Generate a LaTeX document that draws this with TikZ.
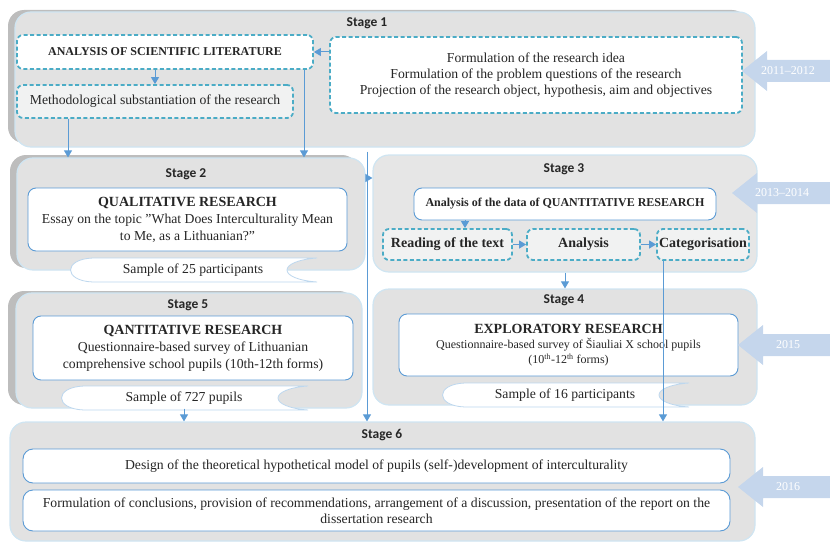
\documentclass[tikz,border=0pt]{standalone}
\usepackage{fontspec}
\setmainfont{Liberation Serif}
\newfontfamily\stagefont{Carlito}
\usetikzlibrary{arrows.meta,calc}
\definecolor{stagefill}{HTML}{E2E2E2}
\definecolor{stageshadow}{HTML}{BDBDBD}
\definecolor{stageedge}{HTML}{CFE5F2}
\definecolor{dashcyan}{HTML}{4BACC6}
\definecolor{solidblue}{HTML}{5B9BD5}
\definecolor{yearblue}{HTML}{C5D6EC}
\definecolor{ribbonedge}{HTML}{BDD7EE}
\definecolor{lightfill}{HTML}{F1F2F2}
\definecolor{txt}{HTML}{262626}
\tikzset{
 stagebox/.style={draw=stageedge, line width=1.2pt, fill=stagefill, rounded corners=16pt, inner sep=0pt},
 stagelabel/.style={font=\stagefont\bfseries\fontsize{13.5}{15}\selectfont, text=txt, inner sep=0pt},
 dashbox/.style={draw=dashcyan, line width=1.8pt, dash pattern=on 4pt off 2.5pt, rounded corners=6pt, inner sep=2pt, align=center, fill=white, text=txt},
 solidbox/.style={draw=solidblue, line width=0.9pt, rounded corners=8pt, fill=white, inner sep=2pt, align=center, text=txt},
 arr/.style={draw=solidblue, line width=1pt, -{Triangle[width=8pt,length=7pt]}},
 yeartext/.style={text=white, font=\fontsize{12}{14}\selectfont, inner sep=0pt},
 ribbon/.style={fill=white, draw=ribbonedge, line width=0.8pt},
 body/.style={font=\fontsize{13.7}{16}\selectfont, text=txt},
 titlefont/.style={font=\bfseries\fontsize{12}{14}\selectfont},
 stepfont/.style={font=\bfseries\fontsize{14}{16}\selectfont},
}
\newcommand\ribbonat[4]{%
 \begin{scope}[shift={(#1,#2)}]
 \path[ribbon] (-100,-12) -- (124,-12) .. controls (84,-9) and (84,9) .. (124,12) -- (-100,12) .. controls (-130,11) and (-130,-11) .. (-100,-12) -- cycle;
 \end{scope}
 \node[body, inner sep=0pt] (#3) at (#1,#2) {#4};}
\newcommand\yeararrow[5]{% tip x, tip y, text x, name, text
 \fill[yearblue] (#1,#2) -- ++(25,-20) -- ++(0,9) -- (830,{#2-11}) -- (830,{#2+11}) -- ({#1+25},{#2+11}) -- ({#1+25},{#2+20}) -- cycle;
 \node[yeartext] (#4) at (#3,#2) {#5};}
\begin{document}
\begin{tikzpicture}[x=1pt,y=-1pt]
\useasboundingbox (0,0) rectangle (830,543);
% shadows
\fill[stageshadow, rounded corners=16pt] (8,10) rectangle (748,143);
\fill[stageshadow, rounded corners=16pt] (10,155) rectangle (358,268);
\fill[stageshadow, rounded corners=16pt] (8,291) rectangle (355,405);
% stage boxes
\node[stagebox, minimum width=740pt, minimum height=135pt] (S1) at (385,79.5) {};
\node[stagebox, minimum width=348pt, minimum height=112pt] (S2) at (191,214) {};
\node[stagebox, fill=stagefill!85!white, minimum width=384pt, minimum height=117pt] (S3) at (565,213.5) {};
\node[stagebox, minimum width=384pt, minimum height=116pt] (S4) at (565,347) {};
\node[stagebox, minimum width=346pt, minimum height=115pt] (S5) at (189,350.5) {};
\node[stagebox, minimum width=745pt, minimum height=119pt] (S6) at (382.5,481.5) {};
% labels
\node[stagelabel] (L1) at (367,23) {Stage 1};
\node[stagelabel] (L2) at (186,174) {Stage 2};
\node[stagelabel] (L3) at (564,169) {Stage 3};
\node[stagelabel] (L4) at (564,300) {Stage 4};
\node[stagelabel] (L5) at (188,305) {Stage 5};
\node[stagelabel] (L6) at (382,435) {Stage 6};
% ribbons
\ribbonat{193}{270}{R2}{Sample of 25 participants}
\ribbonat{565}{395}{R4}{Sample of 16 participants}
\ribbonat{184}{398}{R5}{Sample of 727 pupils}
% stage 1
\node[dashbox, titlefont, minimum width=296pt, minimum height=34pt] (lit) at (165,52) {ANALYSIS OF SCIENTIFIC LITERATURE};
\node[dashbox, body, fill=lightfill, minimum width=276pt, minimum height=33pt] (meth) at (155,101.5) {Methodological substantiation of the research};
\node[dashbox, body, minimum width=412pt, minimum height=76pt] (idea) at (536,75) {Formulation of the research idea\\Formulation of the problem questions of the research\\Projection of the research object, hypothesis, aim and objectives};
% stage 2
\node[solidbox, font=\fontsize{13.7}{17}\selectfont, minimum width=319pt, minimum height=63pt] (qual) at (187.5,219.5) {\textbf{\fontsize{14}{17}\selectfont QUALITATIVE RESEARCH}\\Essay on the topic ”What Does Interculturality Mean\\to Me, as a Lithuanian?”};
% stage 3
\node[solidbox, titlefont, minimum width=302pt, minimum height=32pt] (data) at (565,204) {Analysis of the data of QUANTITATIVE RESEARCH};
\node[dashbox, fill=lightfill, stepfont, minimum width=129pt, minimum height=31pt] (read) at (447.5,244.5) {Reading of the text};
\node[dashbox, fill=lightfill, stepfont, minimum width=113pt, minimum height=31pt] (anal) at (583.5,244.5) {Analysis};
\node[dashbox, fill=lightfill, stepfont, inner sep=0pt, minimum width=92pt, minimum height=31pt] (cat) at (703,244.5) {Categorisation};
% stage 4
\node[solidbox, font=\fontsize{12}{15}\selectfont, minimum width=339pt, minimum height=62pt] (expl) at (568.5,345) {\textbf{\fontsize{14}{17}\selectfont EXPLORATORY RESEARCH}\\Questionnaire-based survey of Šiauliai X school pupils\\(10\textsuperscript{th}-12\textsuperscript{th} forms)};
% stage 5
\node[solidbox, font=\fontsize{13.7}{17}\selectfont, minimum width=320pt, minimum height=64pt] (qant) at (193,348) {\textbf{\fontsize{14}{17}\selectfont QANTITATIVE RESEARCH}\\Questionnaire-based survey of Lithuanian\\comprehensive school pupils (10th-12th forms)};
% stage 6
\node[solidbox, body, rounded corners=10pt, minimum width=707pt, minimum height=34pt] (design) at (376.5,466) {Design of the theoretical hypothetical model of pupils (self-)development of interculturality};
\node[solidbox, body, rounded corners=10pt, minimum width=707pt, minimum height=41pt] (concl) at (376.5,510.5) {Formulation of conclusions, provision of recommendations, arrangement of a discussion, presentation of the report on the\\dissertation research};
% year arrows
\yeararrow{742}{71}{788}{Y1}{2011–2012}
\yeararrow{732}{193}{782}{Y2}{2013–2014}
\yeararrow{738}{345}{788}{Y3}{2015}
\yeararrow{738}{487}{788}{Y4}{2016}
% connectors
\coordinate (xA) at (68,0);
\coordinate (xB) at (304,0);
\coordinate (xC) at (367,0);
\coordinate (j3) at (367,178);
\coordinate (xD) at (465,0);
\coordinate (xE) at (663,0);
\coordinate (xF) at (184,0);
\draw[arr] (idea.west |- lit.east) -- (lit.east);
\draw[arr] (meth.north |- lit.south) -- (meth.north);
\draw[arr] (xA |- meth.south) -- (xA |- S2.north);
\draw[arr] (xB |- lit.south) -- (xB |- S2.north);
\draw[arr] ([yshift=-4pt]xC |- S1.south) -- (xC |- S6.north);
\draw[arr] (j3) -- (j3 -| S3.west);
\draw[arr] (xD |- data.south) -- (xD |- read.north);
\draw[arr] (read.east) -- (anal.west);
\draw[arr] (anal.east) -- (cat.west);
\draw[arr] (S3.south) -- (S4.north);
\draw[arr] (xE |- cat.south) -- (xE |- S6.north);
\draw[arr] (xF |- S5.south) -- (xF |- S6.north);
\end{tikzpicture}
\end{document}
